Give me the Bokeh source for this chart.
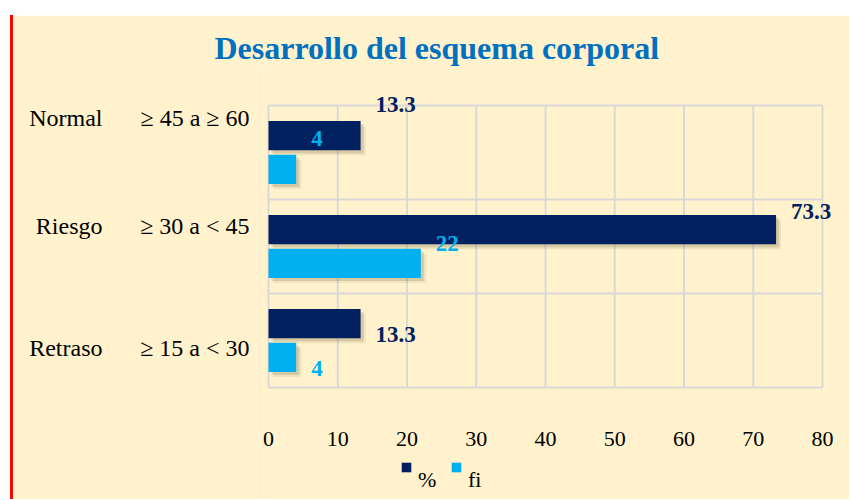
from bokeh.plotting import figure
from bokeh.models import (ColumnDataSource, FixedTicker, LinearAxis, Legend, LegendItem,
                          Spacer, Range1d)
from bokeh.layouts import row
from bokeh.core.properties import value
from bokeh.embed import file_html
from bokeh.resources import INLINE

# ---- data (bottom to top) ----
categories = ["Retraso", "Riesgo", "Normal"]
ranges = ["≥ 15 a < 30", "≥ 30 a < 45", "≥ 45 a ≥ 60"]
pct = [13.3, 73.3, 13.3]
fi = [4, 22, 4]
x_ticks = [0, 10, 20, 30, 40, 50, 60, 70, 80]
series_names = ["%", "fi"]

# label placement inside each category band (band units)
pct_label_dy = [0.069, 0.372, 0.511]
fi_label_dy = [-0.293, 0.032, 0.144]
cat_label_dy = [-0.080, 0.223, 0.362]

DARK = "#002060"
LIGHT = "#00B0F0"
BG = "#FFF2CC"
GRID = "#D9D9D9"
SERIF = "Liberation Serif"

n = len(categories)
idx = list(range(n))
bar_off = 0.18
bar_h = 0.31

# plot geometry (pixels): value axis 0..80 spans 554px, each band 94px;
# the (invisible) frame is extended around the value area so that the data
# labels, the value tick labels and the legend are drawn inside it
AX_W, BAND_H = 554, 94
PAD_LEFT, PAD_RIGHT = 12, 23
PAD_TOP, PAD_BOTTOM = 40, 112
FRAME_W = PAD_LEFT + AX_W + PAD_RIGHT
FRAME_H = PAD_TOP + BAND_H * n + PAD_BOTTOM
ux = x_ticks[-1] / AX_W            # data units per px (value axis)
x_min = -PAD_LEFT * ux
x_max = x_ticks[-1] + PAD_RIGHT * ux
y_min = -0.5 - PAD_BOTTOM / BAND_H
y_max = n - 0.5 + PAD_TOP / BAND_H

src = ColumnDataSource(dict(
    y_pct=[i + bar_off for i in idx],
    y_fi=[i - bar_off for i in idx],
    pct=pct, fi=fi,
    pct_txt=[f"{v:g}" for v in pct],
    fi_txt=[f"{v:g}" for v in fi],
    pct_ly=[i + d for i, d in zip(idx, pct_label_dy)],
    fi_ly=[i + d for i, d in zip(idx, fi_label_dy)],
))

p = figure(frame_width=FRAME_W, frame_height=FRAME_H,
           min_border_left=255 - PAD_LEFT, min_border_right=4,
           min_border_top=50, min_border_bottom=0,
           x_range=Range1d(x_min, x_max), y_range=Range1d(y_min, y_max),
           x_axis_location=None,
           output_backend="svg", toolbar_location=None)

p.background_fill_color = BG
p.border_fill_color = BG
p.outline_line_color = None
p.xgrid.visible = False
p.ygrid.visible = False

# grid lines of the value area
bounds = [i - 0.5 for i in idx] + [n - 0.5]
p.segment(x0=x_ticks, y0=[bounds[0]] * len(x_ticks), x1=x_ticks, y1=[bounds[-1]] * len(x_ticks),
          line_color=GRID, line_width=2)
p.segment(x0=[x_ticks[0]] * len(bounds), y0=bounds, x1=[x_ticks[-1]] * len(bounds), y1=bounds,
          line_color=GRID, line_width=2)

# value tick labels (below the value area)
p.text(x=x_ticks, y=[bounds[0]] * len(x_ticks), text=[str(t) for t in x_ticks],
       y_offset=51, text_font=value(SERIF), text_font_size="22px", text_color="black",
       text_align="center", text_baseline="middle")

# shadows
px_y = 1.0 / BAND_H
for off, a in [(5, 0.10), (3, 0.18)]:
    p.hbar(y=[i + bar_off - off * px_y for i in idx], left=off * ux,
           right=[v + off * ux for v in pct], height=bar_h,
           fill_color="#6b5a30", fill_alpha=a, line_color=None)
    p.hbar(y=[i - bar_off - off * px_y for i in idx], left=off * ux,
           right=[v + off * ux for v in fi], height=bar_h,
           fill_color="#6b5a30", fill_alpha=a, line_color=None)

r_pct = p.hbar(y="y_pct", left=0, right="pct", height=bar_h, source=src,
               fill_color=DARK, line_color=None)
r_fi = p.hbar(y="y_fi", left=0, right="fi", height=bar_h, source=src,
              fill_color=LIGHT, line_color=None)

# data labels
p.text(x="pct", y="pct_ly", text="pct_txt", source=src, x_offset=15,
       text_font=value(SERIF), text_font_style="bold",
       text_font_size="23px", text_color=DARK,
       text_align="left", text_baseline="middle")
p.text(x="fi", y="fi_ly", text="fi_txt", source=src, x_offset=15,
       text_font=value(SERIF), text_font_style="bold",
       text_font_size="23px", text_color=LIGHT,
       text_align="left", text_baseline="middle")

# y axes (two levels)
tick_vals = [round(i + d, 3) for i, d in zip(idx, cat_label_dy)]
inner = p.yaxis[0]
outer = LinearAxis()
p.add_layout(outer, "left")
for ax, labels, so in [(inner, ranges, 13 - PAD_LEFT), (outer, categories, 29)]:
    ax.ticker = FixedTicker(ticks=tick_vals)
    ax.major_label_overrides = {t: l for t, l in zip(tick_vals, labels)}
    ax.axis_line_color = None
    ax.major_tick_line_color = None
    ax.minor_tick_line_color = None
    ax.major_label_standoff = so
    ax.major_label_text_font = SERIF
    ax.major_label_text_font_size = "24px"
    ax.major_label_text_color = "black"

# title
p.title.text = "Desarrollo del esquema corporal"
p.title.text_font = SERIF
p.title.text_font_style = "bold"
p.title.text_font_size = "32px"
p.title.text_color = "#0070C0"
p.title.align = "left"
p.title.offset = -54 + PAD_LEFT
p.title.standoff = 0

# legend (inside the extended frame, below the tick labels);
# the label sits one line below its marker, as in the original
legend = Legend(items=[LegendItem(label="\n" + series_names[0], renderers=[r_pct]),
                       LegendItem(label="\n" + series_names[1], renderers=[r_fi])],
                location=(134 + PAD_LEFT - 2, -18), orientation="horizontal",
                glyph_width=12, glyph_height=12, label_height=100, label_width=20,
                label_standoff=6, spacing=12, padding=0, margin=0,
                border_line_color=None, background_fill_alpha=0,
                label_text_font=SERIF, label_text_font_size="22px",
                label_text_line_height=1.8, label_text_color="black")
p.add_layout(legend, "center")

red = Spacer(width=3, height=484, styles={"background-color": "red"})
layout = row(red, p, margin=(15, 0, 0, 10))

open("out.html", "w").write(file_html(layout, INLINE))
